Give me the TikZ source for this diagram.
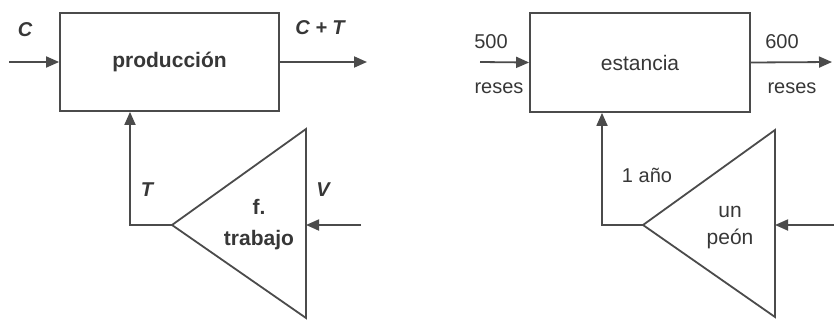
\documentclass[tikz,border=0pt]{standalone}
\usepackage{fontspec}
\setmainfont{Liberation Sans}
\usetikzlibrary{arrows.meta}

\begin{document}
\begin{tikzpicture}[x=1pt, y=-1pt,
  wire/.style={draw=linegray, line width=1.8pt},
  flow/.style={wire, -{Triangle[length=13pt,width=11pt]}},
  block/.style={draw=linegray, line width=1.8pt, rectangle, inner sep=0pt, text=textgray},
  lbl/.style={text=textgray, inner sep=0pt, font=\fontsize{20}{30}\selectfont},
  var/.style={lbl, font=\fontsize{20}{30}\selectfont\bfseries\itshape}]

\definecolor{linegray}{RGB}{75,75,75}
\definecolor{textgray}{RGB}{55,55,55}

\useasboundingbox (0,0) rectangle (834,321);

% ── Left: producción ──
\node[block, minimum width=219pt, minimum height=98pt, font=\fontsize{21}{26}\selectfont\bfseries] (prod) at (169.5,62) {producción};
\coordinate (inC)  at (9,62);
\coordinate (outC) at (367,62);
\draw[flow] (inC) -- (prod.west);
\draw[flow] (prod.east) -- (outC);
\node[var] (labC)  at (25,30)  {C};
\node[var] (labCT) at (320,28) {C + T};

% Triangle f. trabajo
\coordinate (tipL) at (172,225);
\coordinate (topL) at (306,129);
\coordinate (botL) at (306,318);
\coordinate (rgtL) at (306,225);
\draw[wire, line join=miter] (tipL) -- (topL) -- (botL) -- cycle;
\node[lbl, align=center, font=\fontsize{21}{31}\selectfont\bfseries] (ftrab) at (259,225) {f.\\trabajo};

% Feedback T and input V
\coordinate (fbL) at (130,225);
\draw[flow] (tipL) -- (fbL) -- (fbL |- prod.south);
\coordinate (inV) at (361,225);
\draw[flow] (inV) -- (rgtL);
\node[var] (labT) at (147,190) {T};
\node[var] (labV) at (323,190) {V};

% ── Right: estancia ──
\node[block, minimum width=220pt, minimum height=99pt, font=\fontsize{21}{26}\selectfont] (est) at (640,62.5) {estancia};
\coordinate (inR)  at (480,62);
\coordinate (outR) at (832,62);
\draw[flow] (inR) -- (est.west);
\draw[flow] (est.east) -- (outR);
\node[lbl] (lab500)  at (491,42) {500};
\node[lbl] (resesA)  at (499,88) {reses};
\node[lbl] (lab600)  at (782,42) {600};
\node[lbl] (resesB)  at (792,88) {reses};

% Triangle un peón
\coordinate (tipR) at (643,225);
\coordinate (topR) at (775,130);
\coordinate (botR) at (775,317);
\coordinate (rgtR) at (775,225);
\draw[wire, line join=miter] (tipR) -- (topR) -- (botR) -- cycle;
\node[lbl, align=center, font=\fontsize{21}{27}\selectfont] (peon) at (730,228) {un\\peón};

% Feedback 1 año and input
\coordinate (fbR) at (602,225);
\draw[flow] (tipR) -- (fbR) -- (fbR |- est.south);
\coordinate (inP) at (834,225);
\draw[flow] (inP) -- (rgtR);
\node[lbl] (labAno) at (647,175) {1 año};

\end{tikzpicture}
\end{document}
